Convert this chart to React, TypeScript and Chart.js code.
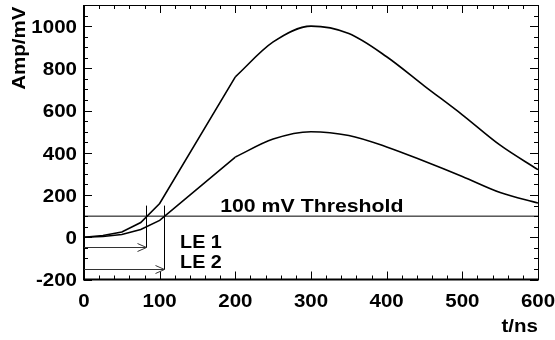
import { useEffect, useRef } from "react";
import { Chart, registerables } from "chart.js";

Chart.register(...registerables);

// ---- data ----
const TIMES = [0, 25, 50, 75, 100, 200, 250, 300, 350, 400, 450, 500, 550, 600];
const SIGNAL_BIG = [0, 8, 25, 70, 160, 760, 925, 1000, 965, 855, 716, 580, 436, 320];
const SIGNAL_SMALL = [0, 4, 13, 37, 80, 380, 465, 500, 482, 428, 360, 288, 212, 162];
const KINK_TIME = 200; // rise is piecewise linear up to here, smooth afterwards
const THRESHOLD = 100;
const THRESHOLD_SPAN = [0, 600];
const LE_TIMES = [82, 106];
const LE_ARROW_Y = [-45, -150];
const LE_TOP = 150;
const LE_LABELS = ["LE 1", "LE 2"];
const X_RANGE = [0, 600];
const Y_RANGE = [-200, 1100];

const FONT = '"Liberation Sans", Arial, Helvetica, sans-serif';
const FONT_SIZE = 19;
const STRETCH = 1.08;

function pts(xs: number[], ys: number[]) {
  return xs.map((x, i) => ({ x, y: ys[i] }));
}

const kinkIdx = TIMES.indexOf(KINK_TIME);

function drawText(ctx: CanvasRenderingContext2D, text: string, x: number, y: number, align: CanvasTextAlign, sx = STRETCH) {
  ctx.save();
  ctx.translate(x, y);
  ctx.scale(sx, 1);
  ctx.textAlign = align;
  ctx.textBaseline = "alphabetic";
  ctx.fillText(text, 0, 0);
  ctx.restore();
}

const framePlugin = {
  id: "rootFrame",
  afterDraw(chart: any) {
    const ctx = chart.ctx as CanvasRenderingContext2D;
    const xs = chart.scales.x;
    const ys = chart.scales.y;
    const { left, right, top, bottom } = chart.chartArea;
    ctx.save();
    ctx.strokeStyle = "#000";
    // frame
    ctx.lineWidth = 1;
    ctx.beginPath();
    ctx.moveTo(left, top + 0.5);
    ctx.lineTo(right + 0.5, top + 0.5);
    ctx.lineTo(right + 0.5, bottom);
    ctx.stroke();
    ctx.lineWidth = 2;
    ctx.beginPath();
    ctx.moveTo(left, top);
    ctx.lineTo(left, bottom);
    ctx.lineTo(right + 1, bottom);
    ctx.stroke();
    // ticks
    ctx.lineWidth = 1;
    ctx.beginPath();
    for (let t = X_RANGE[0]; t <= X_RANGE[1]; t += 20) {
      const px = Math.round(xs.getPixelForValue(t)) + 0.5;
      const len = t % 100 === 0 ? 8 : 4;
      ctx.moveTo(px, bottom);
      ctx.lineTo(px, bottom - len);
      ctx.moveTo(px, top);
      ctx.lineTo(px, top + len);
    }
    for (let v = Y_RANGE[0]; v <= Y_RANGE[1]; v += 50) {
      const py = Math.round(ys.getPixelForValue(v)) + 0.5;
      const len = v % 200 === 0 ? 8 : 4;
      ctx.moveTo(left, py);
      ctx.lineTo(left + len, py);
      ctx.moveTo(right, py);
      ctx.lineTo(right - len, py);
    }
    ctx.stroke();

    // LE markers
    for (let i = 0; i < LE_TIMES.length; i++) {
      const px = Math.round(xs.getPixelForValue(LE_TIMES[i])) + 0.5;
      const yTop = ys.getPixelForValue(LE_TOP);
      const yA = Math.round(ys.getPixelForValue(LE_ARROW_Y[i])) + 0.5;
      ctx.strokeStyle = "#000";
      ctx.lineWidth = 1;
      ctx.beginPath();
      ctx.moveTo(px, yTop);
      ctx.lineTo(px, yA);
      ctx.stroke();
      ctx.strokeStyle = "#333";
      ctx.beginPath();
      ctx.moveTo(left, yA);
      ctx.lineTo(px, yA);
      ctx.moveTo(px - 9, yA - 4);
      ctx.lineTo(px, yA);
      ctx.lineTo(px - 9, yA + 4);
      ctx.stroke();
    }

    // texts
    ctx.fillStyle = "#000";
    ctx.font = `bold ${FONT_SIZE}px ${FONT}`;
    const cap = FONT_SIZE * 0.716;

    // tick labels from the library's scales
    for (const t of xs.ticks) {
      drawText(ctx, String(t.value), xs.getPixelForValue(t.value), bottom + 14 + cap, "center");
    }
    for (const t of ys.ticks) {
      drawText(ctx, String(t.value), left - 7, ys.getPixelForValue(t.value) + cap / 2, "right");
    }

    drawText(ctx, "100 mV Threshold", xs.getPixelForValue(180), ys.getPixelForValue(120), "left", 1.12);
    drawText(ctx, LE_LABELS[0], xs.getPixelForValue(127), ys.getPixelForValue(-52), "left", 1.04);
    drawText(ctx, LE_LABELS[1], xs.getPixelForValue(127), ys.getPixelForValue(-147), "left", 1.04);

    // axis titles
    drawText(ctx, "t/ns", right, 331.5, "right");
    ctx.save();
    ctx.translate(25.3, top + 1.5);
    ctx.rotate(-Math.PI / 2);
    drawText(ctx, "Amp/mV", 0, 0, "right");
    ctx.restore();
    ctx.restore();
  },
};

export default function App() {
  const ref = useRef<HTMLCanvasElement | null>(null);
  useEffect(() => {
    if (!ref.current) return;
    const curveBase = {
      borderColor: "#000",
      borderWidth: 1.6,
      pointRadius: 0,
      fill: false,
    };
    const chart = new Chart(ref.current, {
      type: "scatter",
      data: {
        datasets: [
          { ...curveBase, showLine: true, tension: 0, data: pts(TIMES.slice(0, kinkIdx + 1), SIGNAL_BIG.slice(0, kinkIdx + 1)) },
          { ...curveBase, showLine: true, cubicInterpolationMode: "monotone", data: pts(TIMES.slice(kinkIdx), SIGNAL_BIG.slice(kinkIdx)) },
          { ...curveBase, showLine: true, tension: 0, data: pts(TIMES.slice(0, kinkIdx + 1), SIGNAL_SMALL.slice(0, kinkIdx + 1)) },
          { ...curveBase, showLine: true, cubicInterpolationMode: "monotone", data: pts(TIMES.slice(kinkIdx), SIGNAL_SMALL.slice(kinkIdx)) },
          {
            borderColor: "#000",
            borderWidth: 1,
            pointRadius: 0,
            showLine: true,
            data: THRESHOLD_SPAN.map((x) => ({ x, y: THRESHOLD })),
          },
        ] as any,
      },
      options: {
        animation: false,
        responsive: false,
        devicePixelRatio: 1,
        layout: { padding: { left: 0, top: 5, right: 17, bottom: 0 } },
        plugins: { legend: { display: false }, tooltip: { enabled: false } },
        scales: {
          x: {
            type: "linear",
            min: X_RANGE[0],
            max: X_RANGE[1],
            grid: { display: false, drawTicks: false },
            border: { display: false },
            ticks: { stepSize: 100, display: false },
            afterFit(s: any) {
              s.height = 60.5;
              s.paddingLeft = 0;
              s.paddingRight = 0;
            },
          },
          y: {
            type: "linear",
            min: Y_RANGE[0],
            max: Y_RANGE[1],
            grid: { display: false, drawTicks: false },
            border: { display: false },
            ticks: { stepSize: 200, includeBounds: false, display: false },
            afterFit(s: any) {
              s.width = 84;
              s.paddingTop = 0;
              s.paddingBottom = 0;
            },
          },
        },
      } as any,
      plugins: [framePlugin],
    });
    return () => chart.destroy();
  }, []);
  return (
    <div style={{ position: "fixed", left: 0, top: 0, width: 555, height: 340, background: "#fff" }}>
      <canvas ref={ref} width={555} height={340} style={{ display: "block" }} />
    </div>
  );
}
